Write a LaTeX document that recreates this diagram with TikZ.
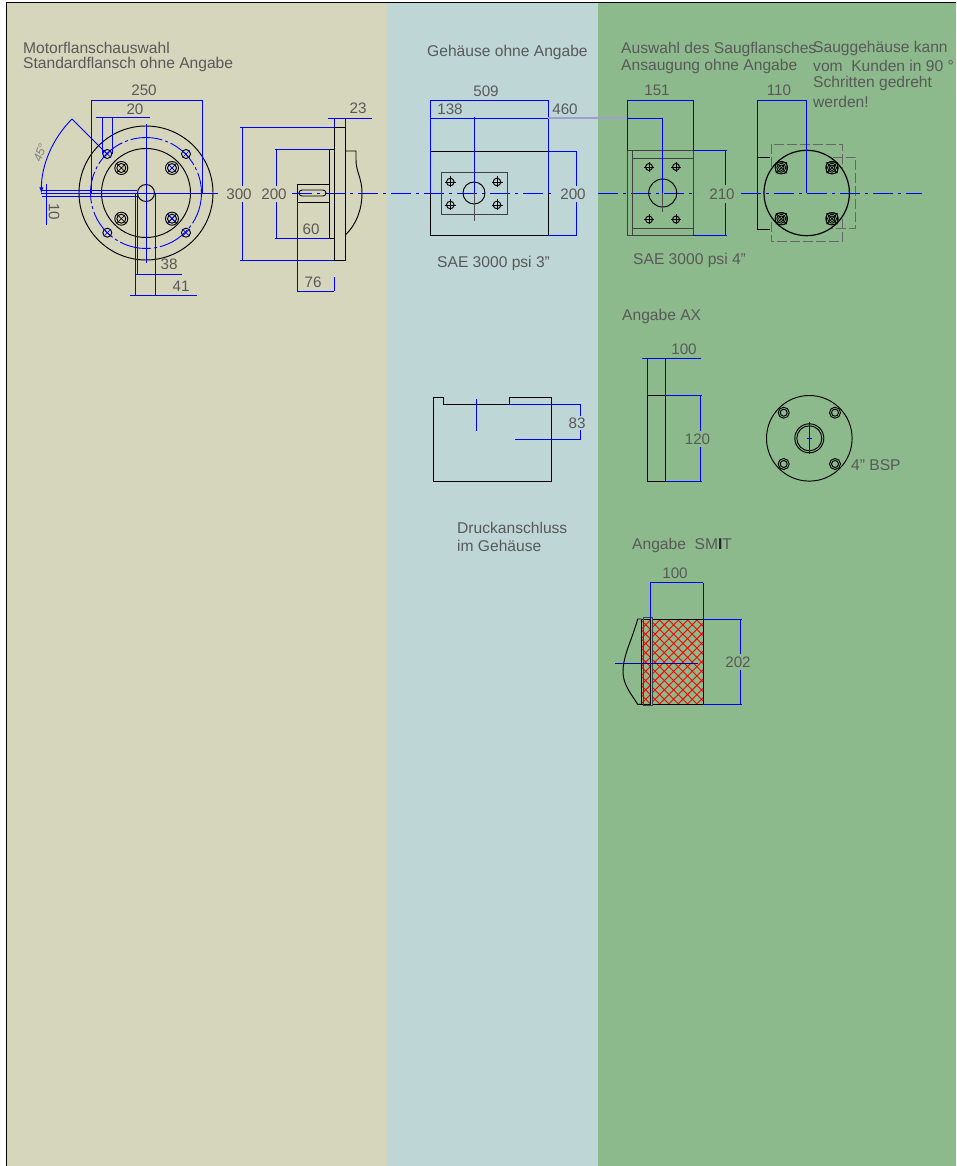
\documentclass[tikz,border=0pt]{standalone}
\usepackage{fontspec}
\setmainfont{Liberation Sans}
\definecolor{beige}{HTML}{D6D6BC}
\definecolor{pale}{HTML}{BED6D6}
\definecolor{sage}{HTML}{8CBA8C}
\definecolor{inkgray}{HTML}{595959}
\definecolor{dimblue}{HTML}{0000FF}
\definecolor{faint}{HTML}{A0A0D0}
\begin{document}
\begin{tikzpicture}[x=1pt,y=-1pt]

\tikzset{txt/.style = {font=\fontsize{15.6}{17}\selectfont, text=inkgray, anchor=west, inner sep=0pt, yshift=-0.5pt}}
\tikzset{num/.style = {font=\fontsize{15.2}{17}\selectfont, text=inkgray, inner sep=1pt, yshift=-1pt}}
\tikzset{dim/.style = {draw=dimblue, line width=0.9pt}}
\tikzset{part/.style = {draw=black, line width=0.95pt}}
\tikzset{axis/.style = {draw=dimblue, line width=0.9pt, dash pattern=on 20pt off 5pt on 3pt off 5pt}}
\tikzset{hid/.style = {draw=black!60, line width=1pt, dash pattern=on 10pt off 3pt}}
\tikzset{web/.style = {draw=red, line width=0.9pt}}
\useasboundingbox (0,0) rectangle (956,1166);
%panels
\fill[white] (0,0) rectangle (956,1166);
\fill[beige] (6,2) rectangle (387,1166);
\fill[pale] (387,2) rectangle (598,1166);
\fill[sage] (598,2) rectangle (956,1166);
\draw[black, line width=1.4pt] (956,2.5) -- (6.3,2.5) -- (6.3,1166);
%center line
\draw[axis] (292,193) -- (552,193);
\draw[axis] (598,193) -- (697,193);
%motor flange, front
\draw[part] (146,193) circle (67);
\draw[part] (146,193) circle (44.5);
\draw[part] (146,193) circle (8.5);
\draw[axis, dash pattern=on 32pt off 3pt on 3pt off 3pt] (146,193) circle (55.5);
\foreach \hx/\hy in {107.3/154, 186/154, 107.3/232.7, 186/232.7} {
  \draw[part] (\hx,\hy) circle (4.5);
  \draw[dim, line width=0.7pt] (\hx-3.5,\hy-3.5) -- (\hx+3.5,\hy+3.5) (\hx-3.5,\hy+3.5) -- (\hx+3.5,\hy-3.5);
}
\foreach \hx/\hy in {121.3/168, 172/168, 121.3/218.7, 172/218.7} {
  \draw[part] (\hx,\hy) circle (6.5);
  \draw[part] (\hx,\hy) circle (4.5);
  \draw[part, line width=0.7pt] (\hx-4.5,\hy-4.5) -- (\hx+4.5,\hy+4.5) (\hx-4.5,\hy+4.5) -- (\hx+4.5,\hy-4.5);
}
\foreach \hy in {168, 218.7} {
  \draw[dim, line width=0.7pt] (172-4,\hy-4) -- (172+4,\hy+4) (172-4,\hy+4) -- (172+4,\hy-4);
}
\draw[dim] (41,193) -- (218,193);
\draw[dim] (146,124) -- (146,263);
\draw[dim] (91,100) -- (202.5,100);
\draw[dim] (91,100) -- (91,193);
\draw[dim] (202.5,100) -- (202.5,193);
\draw[dim] (96,117) -- (150,117);
\draw[dim] (102,117) -- (102,154);
\draw[dim] (112.5,117) -- (112.5,154);
\draw[dim, ->, >=latex] (72,119) arc (225:180:104.6);
\draw[dim] (72,119) -- (107,154);
\draw[dim] (46.5,184) -- (46.5,225);
\draw[dim] (42,190) -- (137,190);
\draw[dim] (42,196) -- (137,196);
\draw[dim] (135,274) -- (182,274);
\draw[dim] (137,193) -- (137,274);
\draw[dim] (155,193) -- (155,295);
\draw[dim] (130,295) -- (197,295);
\draw[dim] (135.5,193) -- (135.5,295);
\node[num] (d250) at (144,89) {250};
\node[num] (d20) at (135,108) {20};
\node[num] (d38) at (169,263) {38};
\node[num] (d41) at (181,285) {41};
\node[num, rotate=-90] (d10) at (54,211) {10};
\node[num, rotate=70, font=\fontsize{12}{13}\itshape, text=black!50] (d45) at (40,152) {45°};
%motor flange, side
\draw[part] (334,127) rectangle (345.3,260);
\draw[part] (329.7,149.3) rectangle (334,238.3);
\draw[part] (297,184.7) rectangle (329.7,202);
\draw[part, rounded corners=3pt] (299,190) rectangle (326,196);
\draw[part] (345.3,151) -- (356,151) -- (356,160) .. controls (356,172) and (362,178) .. (362,193) .. controls (362,210) and (356,225) .. (345.3,235);
\draw[dim] (240,127) -- (334,127);
\draw[dim] (240,260) -- (334,260);
\draw[dim] (242,127) -- (242,260);
\draw[dim] (275,149.3) -- (330,149.3);
\draw[dim] (275,238.3) -- (330,238.3);
\draw[dim] (276.5,149.3) -- (276.5,238.3);
\draw[dim] (297,202) -- (297,292);
\draw[dim] (297,291.3) -- (334,291.3);
\draw[dim] (334,277) -- (334,291.3);
\draw[dim] (328,118) -- (372,118);
\draw[dim] (334,118) -- (334,127);
\draw[dim] (345.3,118) -- (345.3,127);
\node[num, fill=beige, inner ysep=3pt] (d300) at (239,193) {300};
\node[num, fill=beige, inner ysep=3pt] (d200) at (274,193) {200};
\node[num] (d60) at (311,228) {60};
\node[num] (d76) at (313,281) {76};
\node[num] (d23) at (358,107) {23};
%housing
\draw[part] (430.3,151.3) rectangle (548,235.3);
\draw[part, draw=black!75] (441,172.7) rectangle (507,214);
\draw[part] (474,193) circle (11);
\foreach \hx/\hy in {450.3/182, 497/182, 450.3/205, 497/205} {
  \draw[part] (\hx,\hy) circle (3.8);
  \draw[part] (\hx-5.5,\hy) -- (\hx+5.5,\hy) (\hx,\hy-5.5) -- (\hx,\hy+5.5);
}
\draw[part, draw=black!70] (474,193) -- (474,221);
\draw[dim] (474,117) -- (474,193);
\draw[dim] (430.3,100) -- (548,100);
\draw[dim] (430.3,100) -- (430.3,193);
\draw[dim] (548,100) -- (548,193);
\draw[dim] (430.3,118) -- (548,118);
\draw[draw=faint, line width=1.1pt] (548,118) -- (628,118);
\draw[dim] (628,118) -- (662.7,118);
\draw[dim] (548,151.3) -- (577,151.3);
\draw[dim] (548,235.3) -- (577,235.3);
\draw[dim] (576,151.3) -- (576,235.3);
\node[num] (d509) at (486,90) {509};
\node[num] (d138) at (450,108) {138};
\node[num] (d460) at (565,108) {460};
\node[num, fill=pale, inner ysep=3pt] (d200b) at (573,193) {200};
%suction flange
\draw[part, draw=black!75] (627.7,150.7) rectangle (693.3,235.7);
\draw[part, draw=black!75] (632.3,150.7) -- (632.3,235.7);
\draw[part, draw=black!75] (632.3,158) -- (693.3,158);
\draw[part, draw=black!75] (632.3,228.7) -- (693.3,228.7);
\draw[part] (662.7,193) circle (14);
\foreach \hx/\hy in {649/167, 676/167, 649/219.5, 676/219.5} {
  \draw[part] (\hx,\hy) circle (3.5);
  \draw[part] (\hx-5,\hy) -- (\hx+5,\hy) (\hx,\hy-5) -- (\hx,\hy+5);
}
\draw[part, draw=black!70] (662.7,193) -- (662.7,212);
\draw[dim] (662.7,118) -- (662.7,193);
\draw[dim] (627.7,100.3) -- (693.3,100.3);
\draw[dim] (627.7,100.3) -- (627.7,150.7);
\draw[dim] (693.3,100.3) -- (693.3,150.7);
\draw[dim] (693.3,150.7) -- (727,150.7);
\draw[dim] (693.3,235.7) -- (727,235.7);
\draw[dim] (725,150.7) -- (725,235.7);
\node[num] (d151) at (657,89) {151};
\node[num, fill=sage, inner ysep=4pt] (d210) at (722,193) {210};
%suction housing
\draw[hid] (771,144.3) rectangle (842.3,242);
\draw[hid] (806.7,157.3) -- (855.7,157.3) -- (855.7,229) -- (806.7,229);
\fill[sage] (806.7,193) circle (42.7);
\draw[part] (770,157.3) -- (757.3,157.3) -- (757.3,229) -- (770,229);
\draw[axis] (741,193) -- (922,193);
\draw[part, line width=1.2pt] (806.7,193) circle (42.7);
\foreach \hx/\hy in {781.3/167.7, 832/167.7, 781.3/218.7, 832/218.7} {
  \draw[part, line width=0.8pt] (\hx,\hy) circle (6.3);
  \draw[part, line width=0.8pt] (\hx,\hy) circle (4.5);
  \draw[part, line width=0.8pt] (\hx,\hy) circle (2.7);
  \draw[part, line width=0.7pt, rounded corners=2pt] (\hx-5.5,\hy-5.5) rectangle (\hx+5.5,\hy+5.5);
  \draw[part, line width=0.7pt] (\hx-5.5,\hy-5.5) -- (\hx+5.5,\hy+5.5) (\hx-5.5,\hy+5.5) -- (\hx+5.5,\hy-5.5);
}
\draw[dim] (757.3,100.3) -- (806.7,100.3);
\draw[dim] (757.3,100.3) -- (757.3,193);
\draw[dim] (806.7,100.3) -- (806.7,193);
\node[num] (d110) at (779,89) {110};
%pressure port
\draw[part] (433,397.3) -- (443.3,397.3) -- (443.3,404.3) -- (509.3,404.3) -- (509.3,397.3) -- (551,397.3) -- (551,481) -- (433,481) -- cycle;
\draw[dim] (476.3,399) -- (476.3,430.7);
\draw[dim] (509.3,404.3) -- (581,404.3);
\draw[dim] (515,439.3) -- (581,439.3);
\draw[dim] (580,404.3) -- (580,439.3);
\node[num, fill=pale, inner ysep=2pt] (d83) at (577,422) {83};
%AX
\draw[part] (647.7,395.7) rectangle (665.3,481);
\draw[dim] (642,358.3) -- (700.7,358.3);
\draw[dim] (647.7,358.3) -- (647.7,395.7);
\draw[dim] (665.3,358.3) -- (665.3,395.7);
\draw[dim] (665.3,395.7) -- (702,395.7);
\draw[dim] (665.3,481) -- (702,481);
\draw[dim] (700.3,395.7) -- (700.3,481);
\node[num] (d100) at (684,348) {100};
\node[num, fill=sage, inner ysep=3pt] (d120) at (697.5,438) {120};
\draw[part] (809.3,438.3) circle (42.8);
\draw[part] (809.3,438.3) circle (14.5);
\draw[part] (809.3,438.3) circle (12.5);
\foreach \hx/\hy in {783.7/412.7, 835/412.7, 783.7/464, 835/464} {
  \draw[part] (\hx,\hy) circle (5.5);
  \draw[part] (\hx,\hy) circle (3.5);
}
\draw[dim] (809.3,422) -- (809.3,454);
\draw[dim] (807,438.3) -- (811.6,438.3);
%SMIT
\begin{scope}
\clip (652.3,619) rectangle (703.3,704.3) (641.3,619) rectangle (650.7,704.3);
\foreach \k in {0,...,22} {
  \draw[web] (500+9.3*\k,600) -- (620+9.3*\k,720);
  \draw[web] (810-9.3*\k,600) -- (690-9.3*\k,720);
}
\end{scope}
\draw[part] (652.3,619) rectangle (703.3,704.3);
\draw[part] (641.3,619) rectangle (650.7,704.3);
\draw[part, draw=black!75] (643.3,617.7) rectangle (652.3,705.3);
\draw[part] (641.3,619) -- (637.7,619) .. controls (632,640) and (623,655) .. (623,672) .. controls (623,685) and (632,695) .. (637.7,704.3) -- (641.3,704.3);
\draw[dim] (650.3,582.7) -- (703.3,582.7);
\draw[dim] (650.3,582.7) -- (650.3,619);
\draw[dim] (703.3,582.7) -- (703.3,619);
\draw[dim] (703.3,619) -- (742,619);
\draw[dim] (703.3,704.3) -- (742,704.3);
\draw[dim] (740.3,619) -- (740.3,704.3);
\draw[dim, draw=dimblue!70!black] (615,663) -- (698,663);
\node[num] (d100b) at (675,572) {100};
\node[num, fill=sage, inner ysep=3pt] (d202) at (738,661) {202};
%texts
\node[txt] (motor) at (23,47) {Motorflanschauswahl};
\node[txt] (standard) at (23,64) {Standardflansch ohne Angabe};
\node[txt] (gehaeuse) at (427,52) {Gehäuse ohne Angabe};
\node[txt] (auswahl) at (621,49) {Auswahl des Saugflansches};
\node[txt] (ansaugung) at (621,66) {Ansaugung ohne Angabe};
\node[txt] (saug) at (813,48) {Sauggehäuse kann};
\node[txt] (kunden) at (813,65) {vom\ \ Kunden in 90 °};
\node[txt] (schritten) at (813,83) {Schritten gedreht};
\node[txt] (werden) at (813,101) {werden!};
\node[txt] (sae3) at (437,263) {SAE 3000 psi 3"};
\node[txt] (sae4) at (633,260) {SAE 3000 psi 4"};
\node[txt] (ax) at (622,316) {Angabe AX};
\node[txt] (bsp) at (851,465) {4" BSP};
\node[txt] (druck) at (457,527) {Druckanschluss};
\node[txt] (imgeh) at (457,545) {im Gehäuse};
\node[txt] (smit) at (632,545) {Angabe\ \ SM{\color{black!85}\textbf{I}}T};

\end{tikzpicture}
\end{document}
